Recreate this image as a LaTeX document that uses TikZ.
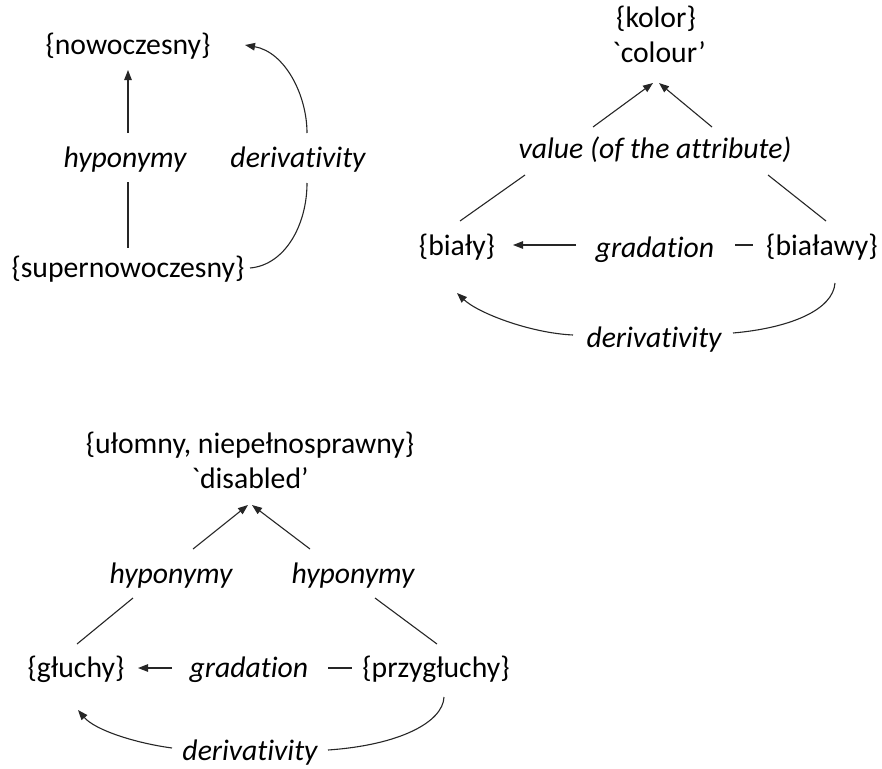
\documentclass[tikz,border=0pt]{standalone}
\usepackage{fontspec}
\setmainfont{Carlito}[Ligatures={TeXOff,NoCommon,NoContextual,NoRare}]
\usetikzlibrary{arrows.meta}
\begin{document}
\begin{tikzpicture}[x=1pt,y=-1pt,
  every node/.style={inner sep=0pt, anchor=base, font=\fontsize{29.7}{34}\selectfont},
  lbl/.style={font=\fontsize{29.7}{34}\selectfont\itshape},
  conn/.style={line width=1.1pt, draw=black!85},
  arr/.style={conn, -{Triangle[length=10pt,width=7.5pt]}}]
\useasboundingbox (0,0) rectangle (882,768);
% ---- top left ----
\node (nowo) at (128,55) {\{nowoczesny\}};
\node[lbl] (hypA) at (125,167) {hyponymy};
\node[lbl] (derA) at (298,167) {derivativity};
\node (super) at (128,277) {\{supernowoczesny\}};
\coordinate (hypAtop) at (128,133);
\coordinate (nowoB) at (128,70);
\coordinate (hypAbot) at (128,182);
\coordinate (superT) at (128,248);
\coordinate (superR) at (250,268);
\coordinate (derAbot) at (307,183);
\coordinate (derAtop) at (307,133);
\coordinate (nowoR) at (245,45);
\draw[arr] (hypAtop) -- (nowoB);
\draw[conn] (hypAbot) -- (superT);
\draw[conn] (superR) .. controls (285,265) and (307,225) .. (derAbot);
\draw[arr] (derAtop) .. controls (307,95) and (285,52) .. (nowoR);
% ---- top right ----
\node (kolor) at (656,28) {\{kolor\}};
\node (colour) at (659,63) {`colour’};
\node[lbl] (val) at (655,158) {value (of the attribute)};
\node (bialy) at (457,255) {\{biały\}};
\node[lbl] (gradA) at (655,257) {gradation};
\node (bialawy) at (822,255) {\{białawy\}};
\node[lbl] (derB) at (654,347) {derivativity};
\coordinate (valTL) at (593,127);
\coordinate (valTR) at (712,127);
\coordinate (colL) at (653,83);
\coordinate (colR) at (659,83);
\coordinate (valBL) at (525,175);
\coordinate (bialyT) at (460,221);
\coordinate (valBR) at (768,175);
\coordinate (bialawyT) at (826,221);
\coordinate (gradAL) at (576,245);
\coordinate (bialyR) at (513,245);
\coordinate (gradAR) at (735,245);
\coordinate (bialawyL) at (753,245);
\coordinate (bialawyB) at (835,283);
\coordinate (derBR) at (733,333);
\coordinate (derBL) at (573,335);
\coordinate (bialyB) at (457,293);
\draw[arr] (valTL) -- (colL);
\draw[arr] (valTR) -- (colR);
\draw[conn] (valBL) -- (bialyT);
\draw[conn] (valBR) -- (bialawyT);
\draw[arr] (gradAL) -- (bialyR);
\draw[conn] (gradAR) -- (bialawyL);
\draw[conn] (bialawyB) .. controls (833,310) and (790,328) .. (derBR);
\draw[arr] (derBL) .. controls (530,333) and (478,313) .. (bialyB);
% ---- bottom ----
\node (ulom) at (250,453) {\{ułomny, niepełnosprawny\}};
\node (disab) at (250,488) {`disabled’};
\node[lbl] (hypB) at (171,583) {hyponymy};
\node[lbl] (hypC) at (353,583) {hyponymy};
\node (gluchy) at (76,677) {\{głuchy\}};
\node[lbl] (gradB) at (249,677) {gradation};
\node (przy) at (436,677) {\{przygłuchy\}};
\node[lbl] (derC) at (250,760) {derivativity};
\coordinate (hypBT) at (193,549);
\coordinate (hypCT) at (310,549);
\coordinate (disL) at (248,505);
\coordinate (disR) at (252,505);
\coordinate (hypBB) at (133,598);
\coordinate (gluchyT) at (77,644);
\coordinate (hypCB) at (375,598);
\coordinate (przyT) at (437,644);
\coordinate (gradBL) at (172,668);
\coordinate (gluchyR) at (138,668);
\coordinate (gradBR) at (328,668);
\coordinate (przyL) at (352,668);
\coordinate (przyB) at (444,697);
\coordinate (derCR) at (328,750);
\coordinate (derCL) at (172,748);
\coordinate (gluchyB) at (78,710);
\draw[arr] (hypBT) -- (disL);
\draw[arr] (hypCT) -- (disR);
\draw[conn] (hypBB) -- (gluchyT);
\draw[conn] (hypCB) -- (przyT);
\draw[arr] (gradBL) -- (gluchyR);
\draw[conn] (gradBR) -- (przyL);
\draw[conn] (przyB) .. controls (443,722) and (400,745) .. (derCR);
\draw[arr] (derCL) .. controls (135,743) and (95,730) .. (gluchyB);
\end{tikzpicture}
\end{document}
